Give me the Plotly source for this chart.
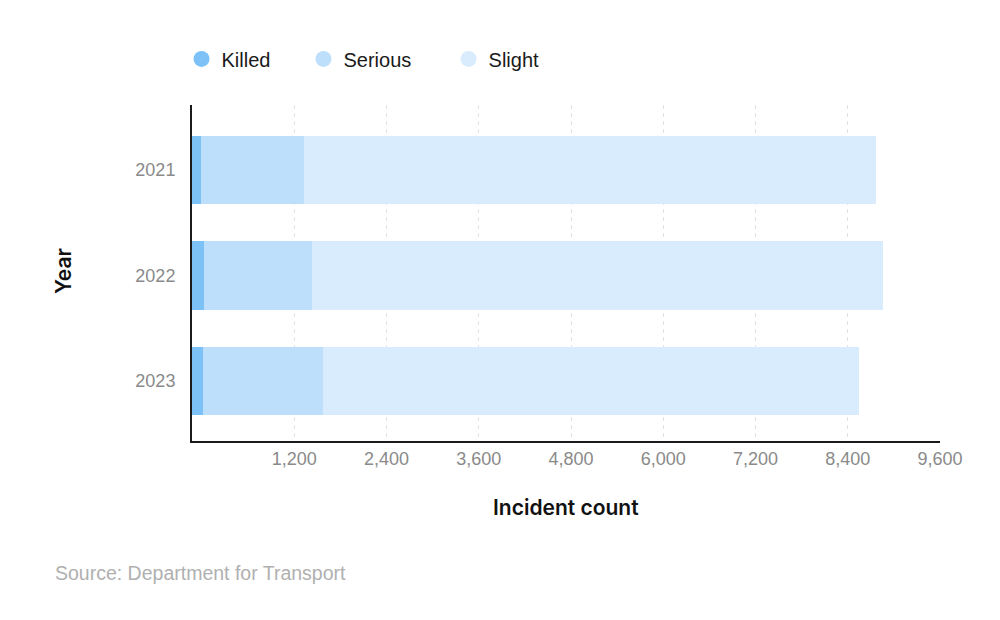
import plotly.graph_objects as go

years = ["2021", "2022", "2023"]
killed = [112, 154, 145]
serious = [1325, 1386, 1541]
slight = [7343, 7326, 6880]

tick_vals = [1200, 2400, 3600, 4800, 6000, 7200, 8400, 9600]

series_names = ["Killed", "Serious", "Slight"]
series_colors = ["#7cc2f7", "#bddffb", "#d8ecfd"]
legend_ids = ["legend", "legend2", "legend3"]
legend_x = [-0.014, 0.149, 0.343]

FONT = "Liberation Sans, Arial, Helvetica, sans-serif"

fig = go.Figure()

for name, vals, col in zip(series_names, [killed, serious, slight], series_colors):
    fig.add_trace(go.Bar(
        y=years, x=vals, orientation="h", name=name,
        marker=dict(color=col, line=dict(width=0)),
        width=0.65, xaxis="x2", yaxis="y", showlegend=False,
        hovertemplate=name + ": %{x:,}<extra></extra>",
    ))

# legend entries (circle symbols)
for name, col, lid in zip(series_names, series_colors, legend_ids):
    fig.add_trace(go.Scatter(
        x=[None], y=[None], mode="markers", name=name,
        marker=dict(symbol="circle", size=20, color=col),
        xaxis="x", yaxis="y", showlegend=True, legend=lid,
    ))

legend_common = dict(
    orientation="h", y=1.137, xanchor="left", yanchor="middle",
    font=dict(size=20, color="#1a1a1a", family=FONT),
    itemclick=False, itemdoubleclick=False, bgcolor="rgba(0,0,0,0)",
)

fig.update_layout(
    width=1000, height=620,
    margin=dict(l=184, r=68, t=97, b=187),
    paper_bgcolor="white", plot_bgcolor="white",
    barmode="stack",
    font=dict(family=FONT, color="#333"),
    xaxis=dict(
        range=[-130, 9600], tickvals=tick_vals, tickformat=",",
        showgrid=True, gridcolor="#e3e3e3", griddash="4px,4px", gridwidth=1,
        zeroline=False, showline=True, linecolor="#1a1a1a", linewidth=2,
        ticks="", ticklabelstandoff=0,
        tickfont=dict(size=18, color="#8a8a8a", family=FONT),
        fixedrange=True,
    ),
    xaxis2=dict(
        range=[0, 9600], overlaying="x", anchor="y", visible=False,
        showgrid=False, zeroline=False, fixedrange=True,
    ),
    yaxis=dict(
        type="category", categoryorder="array", categoryarray=years,
        range=[2.569, -0.616],
        showgrid=False, zeroline=False, showline=True,
        linecolor="#1a1a1a", linewidth=2, ticks="", ticklabelstandoff=11,
        tickfont=dict(size=18, color="#8a8a8a", family=FONT),
        fixedrange=True,
    ),
    legend=dict(x=legend_x[0], **legend_common),
    legend2=dict(x=legend_x[1], **legend_common),
    legend3=dict(x=legend_x[2], **legend_common),
    annotations=[
        dict(text="Incident count", xref="paper", yref="paper",
             x=0.5, y=-0.197, xanchor="center", yanchor="middle",
             showarrow=False,
             font=dict(size=21, color="#111", family="Inter, " + FONT, weight=600)),
        dict(text="Year", xref="paper", yref="paper",
             x=-0.171, y=0.506, xanchor="center", yanchor="middle",
             textangle=-90, showarrow=False,
             font=dict(size=21, color="#111", family="Inter, " + FONT, weight=600)),
        dict(text="Source: Department for Transport", xref="paper", yref="paper",
             x=-0.1858, y=-0.393, xanchor="left", yanchor="middle",
             showarrow=False,
             font=dict(size=19.5, color="#b0b0b0", family=FONT)),
    ],
)

fig.write_html("out.html")
